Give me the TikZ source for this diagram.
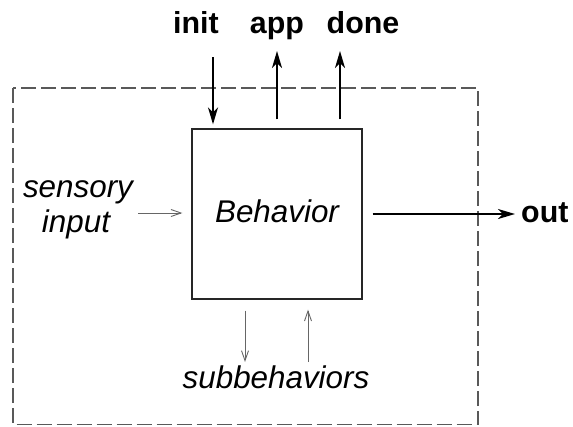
\documentclass[tikz,border=0pt]{standalone}
\usepackage{fontspec}
\setmainfont{Liberation Sans}
\usetikzlibrary{arrows.meta}
\begin{document}
\begin{tikzpicture}[x=1bp,y=-1bp,
  lbl/.style={font=\fontsize{31.5}{35}\selectfont\itshape, inner sep=0pt, anchor=base},
  blbl/.style={font=\fontsize{30.5}{34}\selectfont\bfseries, inner sep=0pt, anchor=base},
  heavy/.style={line width=2bp, -{Stealth[length=17bp,width=10bp,inset=5bp]}},
  light/.style={line width=0.9bp, draw=black!60, -{Straight Barb[length=10bp,width=7bp]}},
  boxstyle/.style={draw=black!85, line width=1.3bp, minimum width=170bp, minimum height=170bp,
    inner sep=0pt, font=\fontsize{31.5}{35}\selectfont\itshape, text height=22.5bp, text depth=5bp},
  ]
\useasboundingbox (0,0) rectangle (573,426);
\draw[line width=1.3bp, draw=black!65, dash pattern=on 15bp off 5bp] (13,88) rectangle (478,424.5);
\node[boxstyle] (beh) at (277,214) {Behavior};
% labels
\node[blbl] (init) at (196,33) {init};
\node[blbl] (app) at (277,33) {app};
\node[blbl] (done) at (363,33) {done};
\node[blbl, anchor=base west] (out) at (521,222) {out};
\node[lbl] (sens) at (78,197) {sensory};
\node[lbl] (inp) at (76,232) {input};
\node[lbl] (sub) at (276,388) {subbehaviors};
% coordinates
\coordinate (initstart) at (213,57);
\coordinate (apptip) at (277,51);
\coordinate (donetip) at (340,51);
\coordinate (sensstart) at (138,213);
\coordinate (subdown) at (245,362);
\coordinate (subup) at (308,362);
% heavy arrows
\draw[heavy, shorten >=4bp] (initstart) -- (initstart |- beh.north);
\draw[heavy, shorten <=9bp] (apptip |- beh.north) -- (apptip);
\draw[heavy, shorten <=9bp] (donetip |- beh.north) -- (donetip);
\draw[heavy, shorten <=10bp, shorten >=6bp] (beh.east) -- (beh.east -| out.west);
% light arrows
\draw[light, shorten >=9bp] (sensstart) -- (sensstart -| beh.west);
\draw[light, shorten <=11bp] (subdown |- beh.south) -- (subdown);
\draw[light, shorten >=10bp] (subup) -- (subup |- beh.south);
\end{tikzpicture}
\end{document}
